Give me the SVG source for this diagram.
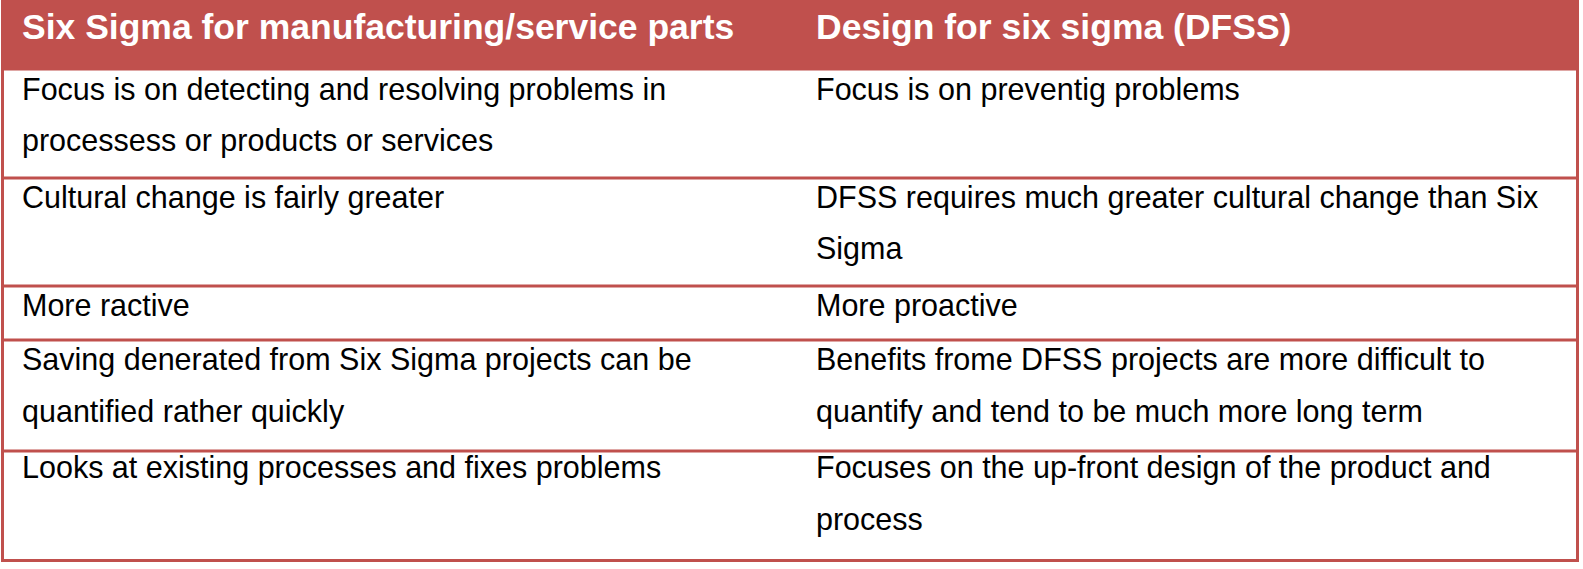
<svg xmlns="http://www.w3.org/2000/svg" width="1583" height="569" viewBox="0 0 1583 569">
<style>
text{font-family:"Liberation Sans",Arial,sans-serif;font-size:30.5px;fill:#000}
.h{font-weight:bold;font-size:35.5px;fill:#fff}
.l{stroke:#C0504D;stroke-width:3;fill:none}
</style>
<rect width="1583" height="569" fill="#fff"/>
<g id="header"><rect x="1.5" y="1.5" width="1576" height="69" fill="#C0504D"/>
<text class="h" x="22" y="39">Six Sigma for manufacturing/service parts</text>
<text class="h" x="816" y="39">Design for six sigma (DFSS)</text></g>
<g id="grid">
<rect class="l" x="2.5" y="1.5" width="1575" height="559"/>
<line class="l" x1="2" y1="178" x2="1578" y2="178"/>
<line class="l" x1="2" y1="286" x2="1578" y2="286"/>
<line class="l" x1="2" y1="340" x2="1578" y2="340"/>
<line class="l" x1="2" y1="451" x2="1578" y2="451"/>
</g>
<g id="row1"><text x="22" y="100">Focus is on detecting and resolving problems in</text><text x="22" y="151">processess or products or services</text><text x="816" y="100">Focus is on preventig problems</text></g>
<g id="row2"><text x="22" y="208">Cultural change is fairly greater</text><text x="816" y="208">DFSS requires much greater cultural change than Six</text><text x="816" y="259">Sigma</text></g>
<g id="row3"><text x="22" y="316">More ractive</text><text x="816" y="316">More proactive</text></g>
<g id="row4"><text x="22" y="370">Saving denerated from Six Sigma projects can be</text><text x="22" y="422">quantified rather quickly</text><text x="816" y="370">Benefits frome DFSS projects are more difficult to</text><text x="816" y="422">quantify and tend to be much more long term</text></g>
<g id="row5"><text x="22" y="478">Looks at existing processes and fixes problems</text><text x="816" y="478">Focuses on the up-front design of the product and</text><text x="816" y="530">process</text></g>
</svg>
